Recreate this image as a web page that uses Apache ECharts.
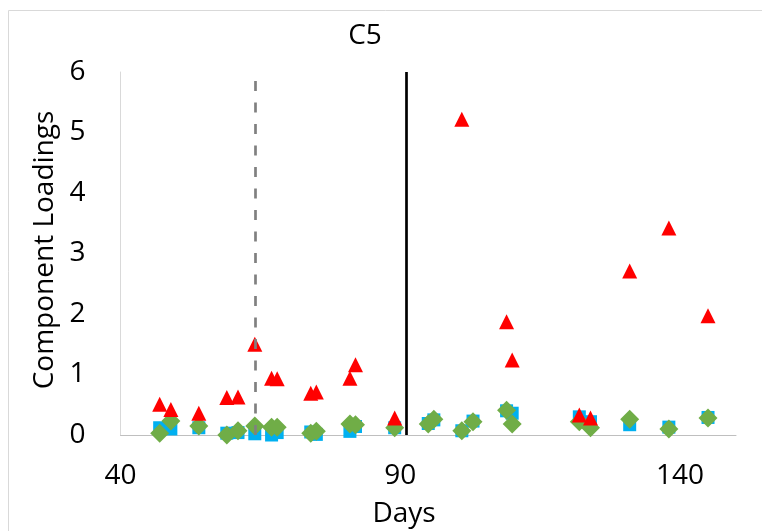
<!DOCTYPE html>
<html><head><meta charset="utf-8">
<script src="https://cdn.jsdelivr.net/npm/echarts@6/dist/echarts.min.js"></script>
<style>html,body{margin:0;padding:0;background:#fff}#c{width:762px;height:531px}</style>
</head><body><div id="c"></div>
<script>
const titleText = 'C5';
const xName = 'Days';
const yName = 'Component Loadings';
const redDays = [47,49,54,59,61,64,67,68,74,75,81,82,89,101,109,110,122,124,131,138,145];
const redVals = [0.51,0.42,0.36,0.62,0.63,1.50,0.94,0.93,0.69,0.71,0.94,1.16,0.28,5.22,1.87,1.24,0.33,0.28,2.71,3.42,1.97];
const bgDays = [47,49,54,59,61,64,67,68,74,75,81,82,89,95,96,101,103,109,110,122,124,131,138,145];
const blueVals = [0.12,0.10,0.12,0.03,0.04,0.02,0.00,0.04,0.05,0.01,0.06,0.14,0.12,0.19,0.25,0.07,0.23,0.40,0.36,0.30,0.22,0.17,0.13,0.29];
const greenVals = [0.03,0.23,0.15,0.00,0.07,0.15,0.13,0.13,0.03,0.06,0.18,0.17,0.12,0.18,0.26,0.07,0.22,0.41,0.18,0.22,0.12,0.26,0.10,0.28];
const dashedLineDay = 64;
const solidLineDay = 91;

const zip = (a, b) => a.map((d, i) => [d, b[i]]);
const FONT = "'Open Sans'";
const chart = echarts.init(document.getElementById('c'));
chart.setOption({
  animation: false,
  grid: {left: 120.5, right: 26, top: 72, bottom: 96},
  xAxis: {
    type: 'value', min: 40, max: 150, interval: 50,
    axisLine: {show: true, onZero: false, lineStyle: {color: '#bfbfbf', width: 1}},
    axisTick: {show: false}, splitLine: {show: false},
    axisLabel: {color: '#000', fontSize: 28, fontFamily: FONT, margin: 27, showMaxLabel: false}
  },
  yAxis: {
    type: 'value', min: 0, max: 6, interval: 1,
    axisLine: {show: true, lineStyle: {color: '#d9d9d9', width: 1}},
    axisTick: {show: false}, splitLine: {show: false},
    axisLabel: {color: '#000', fontSize: 28, fontFamily: FONT, margin: 35}
  },
  graphic: [
    {type: 'rect', silent: true, shape: {x: 8.5, y: 10.5, width: 900, height: 700},
     style: {fill: 'none', stroke: '#d9d9d9', lineWidth: 1}},
    {type: 'text', x: 365, y: 36, silent: true,
     style: {text: titleText, fill: '#000', font: "28px " + FONT, textAlign: 'center', textVerticalAlign: 'middle', align: 'center', verticalAlign: 'middle'}},
    {type: 'text', x: 404, y: 514, silent: true,
     style: {text: xName, fill: '#000', font: "28px " + FONT, textAlign: 'center', textVerticalAlign: 'middle', align: 'center', verticalAlign: 'middle'}},
    {type: 'text', x: 45, y: 250, rotation: Math.PI / 2, silent: true,
     style: {text: yName, fill: '#000', font: "28px " + FONT, textAlign: 'center', textVerticalAlign: 'middle', align: 'center', verticalAlign: 'middle'}}
  ],
  series: [
    {
      type: 'scatter', name: 'lines', data: [], silent: true,
      markLine: {
        silent: true, symbol: ['none', 'none'], label: {show: false},
        data: [
          {xAxis: dashedLineDay, lineStyle: {color: '#808080', width: 2.7, type: [10, 11.5]}},
          {xAxis: solidLineDay, lineStyle: {color: '#000', width: 2.7, type: 'solid'}}
        ]
      }
    },
    {type: 'scatter', name: 'blue', symbol: 'rect', symbolSize: 13, clip: false,
     itemStyle: {color: '#00B0F0', opacity: 1}, data: zip(bgDays, blueVals)},
    {type: 'scatter', name: 'green', symbol: 'diamond', symbolSize: 19, clip: false,
     itemStyle: {color: '#70AD47', opacity: 1}, data: zip(bgDays, greenVals)},
    {type: 'scatter', name: 'red', symbol: 'triangle', symbolSize: 15, clip: false,
     itemStyle: {color: '#FF0000', opacity: 1}, data: zip(redDays, redVals)}
  ]
});
</script></body></html>
